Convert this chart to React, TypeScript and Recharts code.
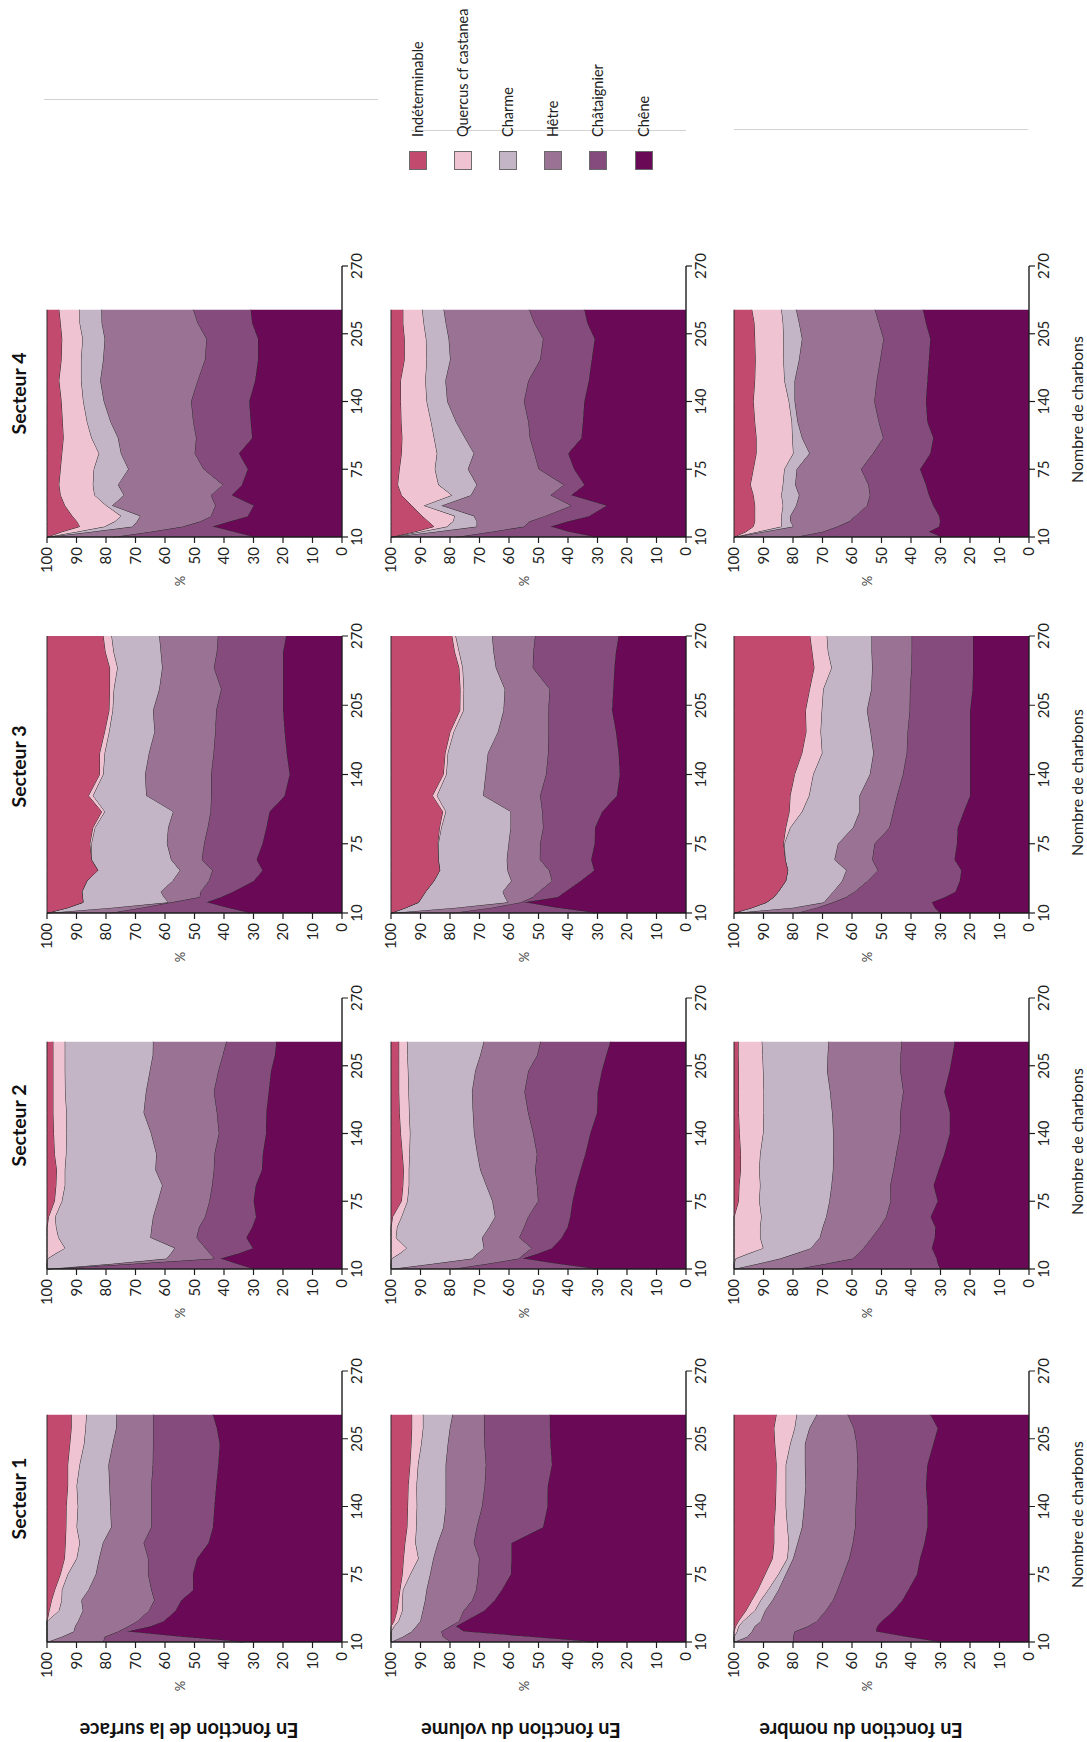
import { AreaChart, Area, XAxis, YAxis } from "recharts";

// species, top of the stack first (legend order)
const SPECIES = ["Indéterminable", "Quercus cf castanea", "Charme", "Hêtre", "Châtaignier", "Chêne"];
const COLORS = ["#c34a6f", "#f0c3d2", "#c4b5c6", "#9a7294", "#854b7c", "#6a0a57"];
const KEYS = ["indet", "quercus", "charme", "hetre", "chataignier", "chene"];

const X_TICKS = [10, 75, 140, 205, 270];
const Y_TICKS = [0, 10, 20, 30, 40, 50, 60, 70, 80, 90, 100];

const X_MAIN = [10, 15, 20, 25, 30, 40, 50, 60, 75, 90, 105, 120, 140, 160, 180, 200, 215, 228];
const X_S3 = [10, 15, 20, 25, 30, 40, 50, 60, 75, 90, 105, 120, 140, 160, 180, 200, 220, 240, 255, 270];

// cumulative upper edge (%) of: Chêne, Châtaignier, Hêtre, Charme, Quercus (Indéterminable fills up to 100)
const S1_SURFACE = [
  [33.6, 55, 73, 65, 60.5, 56.5, 54.5, 50.5, 50.6, 49.2, 45.3, 43.8, 43.3, 42.7, 42, 41.5, 42.5, 43.8],
  [81, 80.5, 76, 72.5, 69.5, 65.5, 63.7, 64.7, 65.8, 65.8, 67.3, 64.7, 64.7, 64.7, 64.2, 64.1, 64.1, 64.1],
  [100, 95, 91, 90.5, 89.5, 87.9, 88.4, 86, 83.5, 82.4, 81.1, 78.3, 78.6, 78.9, 79.2, 77.8, 76.6, 76.5],
  [100, 100, 100, 100, 100, 96, 95.1, 95, 93, 90, 89, 90, 89.6, 90, 89, 87.5, 87, 86.7],
  [100, 100, 100, 100, 100, 99.3, 98.5, 97.4, 95.5, 94.1, 93.8, 93.6, 93.5, 93, 93, 92.3, 91.8, 91.8],
];
const S1_VOLUME = [
  [31.5, 53.5, 75.5, 78, 75, 68.5, 64.9, 62.5, 59.4, 59.2, 59.2, 48.5, 47, 46.9, 45.5, 46, 46.2, 46.2],
  [80, 82.5, 83, 80, 77, 75.5, 72.5, 71.2, 70.5, 70.2, 72, 71, 69.2, 68.3, 67.9, 68.4, 68.5, 68.5],
  [100, 96, 93, 91.5, 90.1, 89.3, 88.5, 88, 86.8, 85.7, 84.2, 82.3, 81.5, 81.5, 81.5, 80.8, 80.1, 79.2],
  [100, 100, 100, 99, 97.5, 96.2, 96.2, 96, 93.5, 90.8, 91.8, 91.5, 91.3, 91.4, 90.9, 89.8, 89.2, 89.2],
  [100, 100, 100, 100, 99, 98, 97.5, 97, 96.2, 95.8, 95.3, 94.6, 94.4, 94.2, 93.6, 93.2, 93, 93],
];
const S1_NOMBRE = [
  [30.5, 42, 52, 51.5, 50, 46, 43, 41, 38, 37, 35.5, 34.5, 34.5, 35, 34.5, 32.5, 31, 33.5],
  [80, 80, 79.5, 75, 72, 69, 66.5, 65, 63, 61, 59.8, 59, 58.8, 58.5, 58.2, 58.5, 59.5, 61.5],
  [100, 95.5, 94, 93, 91, 89.5, 87, 85, 82.5, 80, 78.5, 77, 76.3, 75.8, 76, 76, 74.5, 72],
  [100, 100, 99, 98.5, 97, 93, 91, 88.5, 85, 82, 81.5, 82, 82.5, 82.5, 82.5, 81, 79.5, 78.8],
  [100, 100, 100, 99.5, 98.5, 96, 94, 92, 89.5, 87, 86.5, 86.5, 86, 85.8, 85.7, 86.2, 86.5, 85.7],
];

const S2_SURFACE = [
  [30.2, 36, 41.3, 35, 30.3, 32.5, 30.5, 29.2, 30, 29.3, 27.2, 26.9, 25.8, 25.7, 24.9, 24.1, 22.8, 22.3],
  [100, 71, 43.5, 45, 46.4, 49.4, 48.5, 46.5, 45, 44.1, 43.5, 43.3, 41.8, 42.5, 43.5, 42, 40.5, 39.3],
  [100, 78, 59.5, 58, 56.8, 65, 64.6, 64.1, 62.5, 61, 63.3, 63, 64.8, 67.3, 66.5, 65.2, 64.2, 64.1],
  [100, 100, 99.8, 97, 94, 96.2, 97, 97.3, 95, 94, 94, 93.6, 93.5, 93.5, 93.9, 94, 94, 94],
  [100, 100, 100, 100, 100, 100, 100, 99.5, 97.5, 97, 96.8, 97.5, 97.8, 98, 98, 98, 98, 98],
];
const S2_VOLUME = [
  [30.8, 44, 55.5, 50, 45.5, 42.2, 40.2, 39.3, 38.5, 37.3, 35.8, 34.2, 32.5, 30.2, 30, 28.6, 27.1, 25.7],
  [79.3, 67.5, 56.8, 54.6, 52.4, 56.6, 55, 53.6, 50.2, 50.6, 51.2, 50.6, 51.9, 53.6, 54.8, 53.5, 50.5, 49.4],
  [100, 86, 72.6, 70.6, 68.6, 69.2, 66.8, 64.8, 65.7, 67.8, 69.8, 70.8, 71.9, 72.3, 72.6, 71.5, 69.8, 68.6],
  [100, 100, 99.8, 97, 94.8, 98.4, 98, 96.5, 94.5, 94, 94, 93.8, 93.6, 93.9, 94.1, 94.3, 94.5, 94.6],
  [100, 100, 100, 100, 100, 100, 100, 99.5, 96.5, 96, 95.8, 96.2, 96.8, 97.2, 97.4, 97.4, 97.4, 97.4],
];
const S2_NOMBRE = [
  [30.2, 31, 31.4, 32.2, 33, 32, 31.8, 33.4, 31, 32.4, 30.7, 28.8, 26.9, 26.9, 28.8, 27, 26, 25.2],
  [78.8, 69, 59.8, 57.9, 56.2, 53.4, 50.7, 48.5, 47, 47.1, 46, 45.1, 43.8, 43.7, 42.7, 43.7, 43.6, 43.2],
  [100, 92, 84.4, 79, 74, 71, 70, 68.8, 67.7, 67, 66.5, 66.4, 66.4, 66.8, 67.5, 68.5, 68.3, 68],
  [100, 100, 99.5, 95, 90.2, 91.2, 91.2, 90.8, 91.5, 91.2, 91.5, 91.2, 90.2, 90, 90, 90.2, 90.4, 90.6],
  [100, 100, 100, 100, 100, 100, 100, 100, 98.5, 98.3, 97.8, 97.8, 98.2, 98.5, 98.5, 98.5, 98.6, 98.6],
];

const S3_SURFACE = [
  [31.4, 39, 46, 41, 37, 30, 27, 29, 27, 25.7, 24.6, 19.5, 17.8, 18.8, 19.5, 20, 20, 20, 20, 19],
  [78.8, 68, 58, 48.3, 48, 45.2, 44, 47.6, 46.8, 45.6, 44.6, 44.4, 44.4, 43.6, 43, 42.7, 41, 43.5, 42.5, 42.1],
  [100, 78, 59, 60.5, 61.5, 57.5, 55, 58, 59.4, 59, 57.3, 66.4, 66.8, 65.5, 63.6, 64.1, 62, 61, 61.5, 62],
  [100, 93, 87.8, 88, 88.2, 86.5, 82.8, 85, 85, 83.8, 80.5, 84.5, 81, 80.5, 79, 77.8, 77.4, 76.2, 77.5, 78.2],
  [100, 93, 87.8, 88, 88.2, 86.5, 82.8, 85, 85.5, 84.5, 81.5, 86, 82.2, 82.2, 80.5, 79, 78.8, 78.8, 80.3, 81],
];
const S3_VOLUME = [
  [30.8, 44, 55, 43.5, 41, 35.8, 31.2, 32.2, 31, 30.9, 28.5, 23.5, 22.5, 22.9, 23.8, 25.1, 24.7, 24.3, 23.8, 22.9],
  [79.4, 66, 56, 52, 50, 45.5, 46.5, 49.6, 49.5, 48.5, 48.8, 49.5, 47.5, 46.8, 46.7, 46.7, 46.3, 52, 51.8, 51.2],
  [100, 78, 60.5, 61.5, 62.2, 59.3, 60.6, 60.8, 60.2, 59.5, 59.5, 68.8, 68, 67.2, 63.8, 61.9, 61.5, 64.5, 65.3, 65.8],
  [100, 95, 90.7, 89.5, 88.3, 85.5, 83.5, 84, 84, 83, 81.5, 84.5, 81.3, 80.8, 78.8, 75.5, 75.4, 75.8, 77, 78.2],
  [100, 95, 90.7, 89.5, 88.3, 85.5, 83.5, 84, 84.2, 83.6, 82.5, 86, 82.3, 81.7, 80, 76.7, 76.6, 77, 78.5, 79.4],
];
const S3_NOMBRE = [
  [30.2, 32, 33, 28.5, 25, 23.5, 23, 25.3, 24.5, 24.2, 22.2, 20, 20, 20, 20, 20, 19.2, 19, 19, 19],
  [78.8, 72, 66.5, 62, 59.2, 54.8, 51.3, 53.2, 52.4, 47.4, 46.1, 44.8, 42.8, 41.5, 41.2, 40.5, 40.4, 39.9, 39.8, 39.8],
  [100, 80, 69.5, 68, 66.4, 63.4, 62, 66, 64.8, 59.7, 57.5, 57.5, 54, 52.8, 53.8, 55, 53.5, 53.2, 53.4, 53.4],
  [100, 94, 89, 86.5, 85, 82.5, 81.8, 82.7, 83, 81, 77, 74.6, 73.2, 70.2, 70.7, 70.3, 69.8, 67, 68.2, 68.6],
  [100, 94, 89, 86.5, 85, 82.5, 81.8, 82.7, 83.3, 82.5, 81.3, 81, 79.5, 77, 75.6, 75.8, 74.4, 72.9, 73.6, 74.3],
];

const S4_SURFACE = [
  [30, 37, 44, 38, 32, 30, 37.5, 34, 32, 35, 30.5, 31, 31.5, 29.5, 28.5, 28.5, 30.5, 31],
  [77.6, 65, 54, 48, 44.5, 43, 44.5, 40.5, 47, 50, 49.5, 50.5, 51.2, 49, 46.5, 46, 49, 50.5],
  [100, 85, 71, 69.5, 68.5, 78, 74, 76, 72.5, 75, 76, 78.5, 80.8, 82, 81, 80.5, 81.5, 81.6],
  [100, 90, 80.5, 77, 75, 80, 84, 84.5, 84.2, 82.5, 85, 86.5, 87.8, 88.5, 88.5, 88, 89, 89],
  [100, 95, 89, 90, 91.5, 94, 95.5, 96, 95.5, 95, 94.5, 94.8, 95.2, 96, 95.2, 95, 95.5, 96],
];
const S4_VOLUME = [
  [31, 40, 46, 40, 33, 27, 39, 34.5, 38, 40, 35.5, 35, 34.5, 33, 32, 31, 33.5, 34.5],
  [78, 66, 55, 53, 48, 39, 46, 41.5, 50, 51.5, 53, 53.5, 55, 53.5, 49.5, 48.5, 51.5, 53.2],
  [100, 85, 71, 71, 72, 83, 73, 71, 74, 72, 75, 78, 81, 81.6, 80, 80.5, 81.5, 82.2],
  [100, 90, 81, 79, 78.5, 89, 79.5, 84, 85.2, 84.5, 85.5, 86.5, 88, 88.4, 88, 88.2, 89, 89.5],
  [100, 92, 85.5, 87.5, 89.5, 93, 96.5, 97.8, 97.2, 96.5, 96.3, 96.6, 96.8, 96.8, 95.5, 95.5, 96, 96],
];
const S4_NOMBRE = [
  [30, 34, 30.5, 30.2, 30.5, 32.5, 34, 35, 37, 33.5, 32.5, 34.5, 35, 34.5, 34, 33.5, 35, 36],
  [79.3, 70, 65, 61, 59, 55, 54, 54.5, 57, 53, 49.5, 51, 52.5, 51.7, 50.5, 49.4, 51, 52.3],
  [100, 90, 80, 81, 81, 79, 78, 79.3, 78.8, 74.5, 77, 78.5, 79.5, 79.5, 78, 77, 78, 79],
  [100, 92, 84, 84, 84, 83.5, 84, 83.5, 83, 80, 80.3, 80.5, 81.5, 83, 83.3, 83.3, 83.5, 84],
  [100, 96, 93.5, 93, 93, 93, 93.5, 94.5, 93.5, 92.5, 92.5, 93, 93.5, 93, 92.8, 93, 93.2, 94],
];

const SECTOR_TITLES = ["Secteur 1", "Secteur 2", "Secteur 3", "Secteur 4"];
const ROW_LABELS = ["En fonction de la surface", "En fonction du volume", "En fonction du nombre"];
const SECTOR_X = [X_MAIN, X_MAIN, X_S3, X_MAIN];
const PANELS = [
  [S1_SURFACE, S1_VOLUME, S1_NOMBRE],
  [S2_SURFACE, S2_VOLUME, S2_NOMBRE],
  [S3_SURFACE, S3_VOLUME, S3_NOMBRE],
  [S4_SURFACE, S4_VOLUME, S4_NOMBRE],
];

// layout, in the unrotated (landscape) frame
const FIG_W = 1742;
const FIG_H = 1087;
const COL_LEFT = [100, 473, 829, 1205];
const COL_W = [271, 271, 277, 271];
const ROW_TOP = [47, 391, 734];
const ROW_H = 295;
const ROW_LABEL_Y = [189, 521, 861];

const INK = "#1d1d1d";
const FONT = "Lato, 'Open Sans', sans-serif";

const ML = 50; // y-axis width
const MT = 16;
const MR = 22;
const MB = 34; // x-axis height

function toTable(xs: number[], rows: number[][]) {
  return xs.map((x, i) => {
    const [c1, c2, c3, c4, c5] = rows.map((r) => r[i]);
    return {
      x,
      chene: c1,
      chataignier: c2 - c1,
      hetre: c3 - c2,
      charme: c4 - c3,
      quercus: c5 - c4,
      indet: 100 - c5,
    };
  });
}

function Panel({ xs, rows, left, top, w, h }: any) {
  const data = toTable(xs, rows);
  const stackOrder = [5, 4, 3, 2, 1, 0]; // Chêne at the bottom
  return (
    <div style={{ position: "absolute", left: left - ML, top: top - MT }}>
      <AreaChart
        width={w + ML + MR}
        height={h + MT + MB}
        data={data}
        margin={{ top: MT, right: MR, bottom: 0, left: 0 }}
      >
        <XAxis
          type="number"
          dataKey="x"
          domain={[10, 270]}
          ticks={X_TICKS}
          interval={0}
          height={MB}
          tickSize={6}
          tickMargin={3}
          axisLine={{ stroke: INK, strokeWidth: 1.4 }}
          tickLine={{ stroke: INK, strokeWidth: 1.2 }}
          tick={{ fontSize: 15, fill: "#222", fontFamily: FONT }}
        />
        <XAxis
          xAxisId="top"
          orientation="top"
          type="number"
          domain={[10, 270]}
          height={0}
          tick={false}
          tickLine={false}
          axisLine={{ stroke: INK, strokeWidth: 1.4 }}
        />
        <YAxis
          type="number"
          domain={[0, 100]}
          ticks={Y_TICKS}
          interval={0}
          width={ML}
          tickSize={6}
          tickMargin={4}
          axisLine={{ stroke: INK, strokeWidth: 1.4 }}
          tickLine={{ stroke: INK, strokeWidth: 1.2 }}
          tick={{ fontSize: 15, fill: "#222", fontFamily: FONT }}
        />
        <YAxis
          yAxisId="right"
          orientation="right"
          domain={[0, 100]}
          width={0}
          tick={false}
          tickLine={false}
          axisLine={{ stroke: INK, strokeWidth: 1.4 }}
        />
        {stackOrder.map((k) => (
          <Area
            key={KEYS[k]}
            type="linear"
            dataKey={KEYS[k]}
            stackId="s"
            fill={COLORS[k]}
            fillOpacity={1}
            stroke="#2a2a2a"
            strokeWidth={1}
            dot={false}
            activeDot={false}
            isAnimationActive={false}
          />
        ))}
      </AreaChart>
    </div>
  );
}

function Txt({ x, y, rot = 0, style, children }: any) {
  return (
    <div
      style={{
        position: "absolute",
        left: x,
        top: y,
        transform: `translate(-50%, -50%) rotate(${rot}deg)`,
        whiteSpace: "nowrap",
        lineHeight: 1,
        fontFamily: FONT,
        ...style,
      }}
    >
      {children}
    </div>
  );
}

// faint rules left over in the source figure
function Rule({ x, y0, y1 }: { x: number; y0: number; y1: number }) {
  return (
    <div
      style={{
        position: "absolute",
        left: x,
        top: y0,
        width: 1,
        height: y1 - y0,
        background: "#d2d2d2",
      }}
    />
  );
}

export default function App() {
  const legendTop = [409, 454, 499, 544, 589, 635];
  return (
    <div
      style={{
        position: "absolute",
        left: 0,
        top: 0,
        width: FIG_H,
        height: FIG_W,
        overflow: "hidden",
        background: "#fff",
      }}
    >
      {/* the figure is laid out landscape and turned a quarter turn */}
      <div
        style={{
          position: "absolute",
          left: 0,
          top: 0,
          width: FIG_W,
          height: FIG_H,
          transformOrigin: "0 0",
          transform: `translateY(${FIG_W}px) rotate(-90deg)`,
          fontFamily: FONT,
        }}
      >
        <Rule x={1642} y0={44} y1={378} />
        <Rule x={1611} y0={411} y1={686} />
        <Rule x={1612} y0={734} y1={1028} />

        {SECTOR_TITLES.map((t, c) => (
          <Txt
            key={t}
            x={COL_LEFT[c] + COL_W[c] / 2 + 8}
            y={19}
            style={{ fontSize: 19.5, fontWeight: 700, color: "#111" }}
          >
            {t}
          </Txt>
        ))}

        {ROW_LABELS.map((t, r) => (
          <Txt key={t} x={11} y={ROW_LABEL_Y[r]} rot={-90} style={{ fontSize: 20, fontWeight: 700, color: "#111" }}>
            {t}
          </Txt>
        ))}

        {PANELS.map((col, c) =>
          col.map((rows, r) => (
            <div key={`${c}-${r}`}>
              <Panel
                xs={SECTOR_X[c]}
                rows={rows}
                left={COL_LEFT[c]}
                top={ROW_TOP[r]}
                w={COL_W[c]}
                h={ROW_H}
              />
              <Txt x={COL_LEFT[c] - 44} y={ROW_TOP[r] + ROW_H / 2 - 15} style={{ fontSize: 13, color: "#444" }}>
                %
              </Txt>
            </div>
          ))
        )}

        {SECTOR_TITLES.map((t, c) => (
          <Txt key={`n${t}`} x={COL_LEFT[c] + COL_W[c] / 2 - 8} y={1077} style={{ fontSize: 16, color: "#222" }}>
            Nombre de charbons
          </Txt>
        ))}

        {SPECIES.map((s, i) => (
          <div key={s}>
            <div
              style={{
                position: "absolute",
                left: 1572,
                top: legendTop[i],
                width: 19,
                height: 18,
                background: COLORS[i],
                border: "1px solid #6b6b6b",
                boxSizing: "border-box",
              }}
            />
            <div
              style={{
                position: "absolute",
                left: 1605,
                top: legendTop[i] + 9,
                transform: "translateY(-50%)",
                whiteSpace: "nowrap",
                fontSize: 14.5,
                lineHeight: 1,
                color: "#222",
              }}
            >
              {s}
            </div>
          </div>
        ))}
      </div>
    </div>
  );
}
